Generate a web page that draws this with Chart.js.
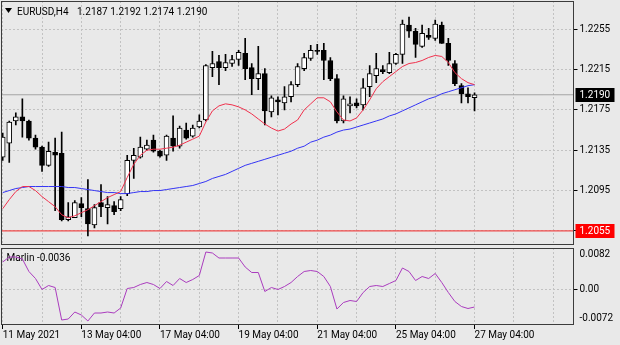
<!DOCTYPE html>
<html>
<head>
<meta charset="utf-8">
<script src="https://cdn.jsdelivr.net/npm/chart.js@4.4.1/dist/chart.umd.min.js"></script>
<style>
    html, body { margin: 0; padding: 0; background: #e9e9e9; }
    #wrap { position: relative; width: 620px; height: 345px; overflow: hidden; }
    canvas { position: absolute; left: 0; }
    #priceChart { top: 0; }
    #marlinChart { top: 247px; }
</style>
</head>
<body>
<div id="wrap">
    <canvas id="priceChart" width="620" height="247"></canvas>
    <canvas id="marlinChart" width="620" height="98"></canvas>
</div>
<script>
// EURUSD H4, 11 May 04:00 .. 27 May 04:00
const SYMBOL = 'EURUSD,H4';

const OPEN = [1.2128,1.2142,1.2164,1.2168,1.2164,1.2147,1.2138,1.2120,1.2133,1.2132,
    1.2066,1.2068,1.2082,1.2077,1.2061,1.2083,1.2078,1.2080,1.2077,1.2092,
    1.2125,1.2128,1.2136,1.2145,1.2134,1.2130,1.2147,1.2139,1.2155,1.2149,
    1.2158,1.2165,1.2217,1.2223,1.2217,1.2221,1.2225,1.2231,1.2217,1.2206,
    1.2211,1.2173,1.2185,1.2182,1.2188,1.2200,1.2216,1.2226,1.2234,1.2234,
    1.2224,1.2206,1.2164,1.2179,1.2182,1.2180,1.2198,1.2209,1.2215,1.2212,
    1.2221,1.2230,1.2259,1.2253,1.2238,1.2249,1.2246,1.2259,1.2241,1.2221,
    1.2199,1.2191,1.2187];
const HIGH = [1.2152,1.2164,1.2172,1.2186,1.2165,1.2150,1.2139,1.2143,1.2147,1.2153,
    1.2083,1.2085,1.2088,1.2106,1.2081,1.2101,1.2089,1.2084,1.2089,1.2130,
    1.2137,1.2148,1.2145,1.2150,1.2135,1.2150,1.2169,1.2159,1.2162,1.2160,
    1.2170,1.2220,1.2233,1.2229,1.2230,1.2229,1.2234,1.2246,1.2221,1.2238,
    1.2216,1.2189,1.2188,1.2198,1.2203,1.2221,1.2231,1.2239,1.2240,1.2241,
    1.2227,1.2210,1.2189,1.2188,1.2186,1.2206,1.2219,1.2231,1.2219,1.2232,
    1.2231,1.2264,1.2267,1.2256,1.2259,1.2256,1.2264,1.2262,1.2246,1.2224,
    1.2201,1.2197,1.2192];
const LOW = [1.2125,1.2123,1.2160,1.2148,1.2145,1.2136,1.2114,1.2119,1.2075,1.2065,
    1.2065,1.2068,1.2069,1.2050,1.2058,1.2069,1.2062,1.2071,1.2075,1.2090,
    1.2107,1.2127,1.2135,1.2133,1.2128,1.2125,1.2134,1.2137,1.2146,1.2148,
    1.2157,1.2164,1.2208,1.2200,1.2214,1.2218,1.2219,1.2205,1.2190,1.2195,
    1.2160,1.2168,1.2170,1.2175,1.2183,1.2198,1.2214,1.2224,1.2230,1.2205,
    1.2204,1.2162,1.2162,1.2172,1.2177,1.2175,1.2188,1.2202,1.2211,1.2211,
    1.2220,1.2221,1.2247,1.2227,1.2237,1.2245,1.2244,1.2241,1.2219,1.2199,
    1.2182,1.2182,1.2174];
const CLOSE = [1.2148,1.2163,1.2168,1.2164,1.2147,1.2138,1.2120,1.2134,1.2130,1.2066,
    1.2069,1.2083,1.2078,1.2062,1.2078,1.2079,1.2081,1.2074,1.2086,1.2125,
    1.2130,1.2138,1.2140,1.2134,1.2129,1.2149,1.2139,1.2157,1.2147,1.2157,
    1.2164,1.2219,1.2221,1.2217,1.2222,1.2225,1.2232,1.2216,1.2206,1.2211,
    1.2174,1.2187,1.2183,1.2188,1.2200,1.2218,1.2227,1.2234,1.2233,1.2224,
    1.2206,1.2164,1.2186,1.2181,1.2179,1.2197,1.2211,1.2216,1.2213,1.2221,
    1.2230,1.2260,1.2253,1.2240,1.2251,1.2247,1.2260,1.2241,1.2224,1.2201,
    1.2191,1.2188,1.2190];

// fast (red) and slow (blue) moving averages
const MA_FAST = [1.2077,1.2086,1.2094,1.2099,1.2099,1.2095,1.2089,1.2084,1.2079,1.2071,
    1.2068,1.2070,1.2073,1.2076,1.2080,1.2084,1.2088,1.2091,1.2094,1.2108,
    1.2121,1.2130,1.2135,1.2136,1.2136,1.2137,1.2138,1.2140,1.2143,1.2146,
    1.2149,1.2163,1.2174,1.2179,1.2181,1.2180,1.2178,1.2175,1.2171,1.2166,
    1.2161,1.2157,1.2154,1.2156,1.2161,1.2165,1.2175,1.2181,1.2187,1.2187,
    1.2183,1.2173,1.2165,1.2164,1.2167,1.2175,1.2185,1.2196,1.2203,1.2208,
    1.2213,1.2218,1.2221,1.2222,1.2224,1.2227,1.2229,1.2228,1.2222,1.2212,
    1.2206,1.2202,1.2200];
const MA_SLOW = [1.2093,1.2095,1.2097,1.2098,1.2099,1.2099,1.2099,1.2099,1.2099,1.2099,
    1.2098,1.2098,1.2097,1.2096,1.2095,1.2094,1.2093,1.2093,1.2092,1.2092,
    1.2093,1.2094,1.2094,1.2095,1.2095,1.2096,1.2097,1.2098,1.2099,1.2100,
    1.2102,1.2104,1.2107,1.2109,1.2111,1.2114,1.2117,1.2120,1.2122,1.2124,
    1.2126,1.2128,1.2130,1.2132,1.2134,1.2137,1.2139,1.2143,1.2145,1.2148,
    1.2150,1.2153,1.2155,1.2156,1.2158,1.2160,1.2162,1.2164,1.2166,1.2169,
    1.2171,1.2174,1.2177,1.2180,1.2183,1.2186,1.2188,1.2191,1.2193,1.2195,
    1.2197,1.2199,1.2200];

// Marlin oscillator, lower window
const MARLIN = [0.0054,0.0064,0.0064,0.0060,0.0035,0.0021,-0.0001,0.0007,0.0003,-0.0062,
    -0.0060,-0.0046,-0.0052,-0.0064,-0.0048,-0.0048,-0.0046,-0.0048,-0.0038,0.0001,
    0.0003,0.0009,0.0013,0.0009,0.0001,0.0015,0.0007,0.0021,0.0013,0.0019,
    0.0027,0.0074,0.0072,0.0062,0.0062,0.0062,0.0062,0.0044,0.0033,0.0033,
    -0.0005,0.0003,-0.0001,0.0005,0.0013,0.0025,0.0035,0.0037,0.0035,0.0025,
    0.0005,-0.0040,-0.0027,-0.0023,-0.0025,-0.0007,0.0005,0.0007,0.0005,0.0011,
    0.0017,0.0042,0.0035,0.0017,0.0025,0.0021,0.0031,0.0013,-0.0007,-0.0025,
    -0.0035,-0.0039,-0.0036];

const LEVEL = 1.2055;
const PRICE_TICKS = [1.2255, 1.2215, 1.2175, 1.2135, 1.2095, 1.2055];
const MARLIN_LABELS = ['0.0082', '0.00', '-0.0072'];
const AXIS_BARS = [0, 12, 24, 36, 48, 60, 72];
const AXIS_LABELS = ['11 May 2021', '13 May 04:00', '17 May 04:00', '19 May 04:00',
    '21 May 04:00', '25 May 04:00', '27 May 04:00'];

const X_MIN = -0.26, X_MAX = 87.1;
const Y_MIN = 1.2041, Y_MAX = 1.2283;
const M_MIN = -0.0072, M_MAX = 0.0082;
const AXIS_W = 46.5;
const GRID = '#c2c2c2';
const FRAME = '#3c3c3c';

Chart.defaults.font.family = 'Roboto';
Chart.defaults.font.size = 10;
Chart.defaults.color = '#000';

const gridBars = [];
for (let b = 0; b <= X_MAX; b += 6) gridBars.push(b);

const idx = CLOSE.map((_, i) => i);
const last = CLOSE.length - 1;
const series = arr => arr.map((v, i) => ({ x: i, y: v }));
const hline = v => [{ x: X_MIN, y: v }, { x: X_MAX, y: v }];

// keep the plot edges where the layout puts them (no room for overhanging labels)
const noOverhang = s => {
    s.paddingTop = 0; s.paddingBottom = 0;
    s.paddingLeft = 0; s.paddingRight = 0;
};

const frame = {
    id: 'frame',
    afterDraw(chart) {
        const { ctx, chartArea: a } = chart;
        ctx.save();
        ctx.strokeStyle = FRAME;
        ctx.lineWidth = 1;
        ctx.strokeRect(Math.round(a.left) + 0.5, Math.round(a.top) + 0.5,
            Math.round(a.right - a.left) - 1, Math.round(a.bottom - a.top) - 1);
        ctx.restore();
    }
};

function priceTag(chart, value, bg) {
    const { ctx } = chart;
    const y = Math.round(chart.scales.y.getPixelForValue(value));
    ctx.fillStyle = bg;
    ctx.fillRect(575.5, y - 7, 39, 14);
    ctx.fillStyle = '#fff';
    ctx.textBaseline = 'middle';
    ctx.textAlign = 'left';
    ctx.fillText(value.toFixed(4), 579.5, y + 0.5);
}

const overlay = {
    id: 'overlay',
    afterDraw(chart) {
        const { ctx } = chart;
        ctx.save();
        ctx.font = '10px Roboto';
        priceTag(chart, CLOSE[last], '#000');
        priceTag(chart, LEVEL, '#ff0000');

        // symbol header
        ctx.fillStyle = '#000';
        ctx.beginPath();
        ctx.moveTo(5, 8); ctx.lineTo(12, 8); ctx.lineTo(8.5, 13); ctx.closePath();
        ctx.fill();
        ctx.textBaseline = 'alphabetic';
        ctx.textAlign = 'left';
        ctx.fillText(SYMBOL, 17, 14.5);
        const ohlc = [OPEN[last], HIGH[last], LOW[last], CLOSE[last]].map(v => v.toFixed(4)).join(' ');
        ctx.fillText(ohlc, 77, 14.5);
        ctx.restore();
    }
};

new Chart(document.getElementById('priceChart'), {
    type: 'bar',
    data: {
        datasets: [
            { type: 'line', data: series(MA_FAST), borderColor: '#f0304c', borderWidth: 1, pointRadius: 0, order: 0 },
            { type: 'line', data: series(MA_SLOW), borderColor: '#3434f4', borderWidth: 1, pointRadius: 0, order: 0 },
            {
                data: idx.map(i => ({ x: i, y: [OPEN[i], CLOSE[i]] })),
                backgroundColor: idx.map(i => CLOSE[i] >= OPEN[i] ? '#ffffff' : '#000000'),
                borderColor: '#000', borderWidth: 1, borderSkipped: false,
                barThickness: 5, grouped: false, order: 1
            },
            {
                data: idx.map(i => ({ x: i, y: [LOW[i], HIGH[i]] })),
                backgroundColor: '#000', borderWidth: 0,
                barThickness: 1, grouped: false, order: 2
            },
            { type: 'line', data: hline(CLOSE[last]), borderColor: '#a4a4a4', borderWidth: 1, pointRadius: 0, order: 3 },
            { type: 'line', data: hline(LEVEL), borderColor: '#f04a4a', borderWidth: 1.2, pointRadius: 0, order: 3 }
        ]
    },
    options: {
        responsive: false,
        animation: false,
        devicePixelRatio: 1,
        layout: { padding: { left: 1, top: 1, right: 0, bottom: 2 } },
        plugins: { legend: { display: false }, tooltip: { enabled: false } },
        scales: {
            x: {
                type: 'linear', min: X_MIN, max: X_MAX, offset: false,
                afterBuildTicks: s => { s.ticks = gridBars.map(v => ({ value: v })); },
                afterFit: s => { s.height = 0; noOverhang(s); },
                ticks: { display: false },
                grid: { color: GRID, drawTicks: false, offset: false },
                border: { display: false, dash: [2, 2] }
            },
            y: {
                position: 'right', min: Y_MIN, max: Y_MAX,
                afterBuildTicks: s => { s.ticks = PRICE_TICKS.map(v => ({ value: v })); },
                afterFit: s => { s.width = AXIS_W; noOverhang(s); },
                ticks: { callback: v => v.toFixed(4), padding: 2 },
                grid: { color: GRID, tickLength: 4, tickColor: '#000' },
                border: { display: false, dash: [2, 2] }
            }
        }
    },
    plugins: [frame, overlay]
});

const marlinLabel = {
    id: 'marlinLabel',
    beforeDatasetsDraw(chart) {
        const { ctx } = chart;
        ctx.save();
        ctx.font = '10px Roboto';
        ctx.fillStyle = '#000';
        ctx.textBaseline = 'alphabetic';
        ctx.fillText('Marlin ' + MARLIN[last].toFixed(4), 6.5, 13.5);
        ctx.restore();
    }
};

new Chart(document.getElementById('marlinChart'), {
    type: 'line',
    data: {
        datasets: [
            { data: series(MARLIN), borderColor: '#aa3cbe', borderWidth: 1, pointRadius: 0 }
        ]
    },
    options: {
        responsive: false,
        animation: false,
        devicePixelRatio: 1,
        layout: { padding: { left: 1, top: 1, right: 0, bottom: 0 } },
        plugins: { legend: { display: false }, tooltip: { enabled: false } },
        scales: {
            x: {
                type: 'linear', min: X_MIN, max: X_MAX, offset: false,
                afterBuildTicks: s => { s.ticks = gridBars.map(v => ({ value: v })); },
                afterFit: s => { s.height = 20; noOverhang(s); },
                ticks: {
                    autoSkip: false, maxRotation: 0, align: 'start', padding: 0,
                    callback: v => {
                        const k = AXIS_BARS.indexOf(v);
                        return k >= 0 ? AXIS_LABELS[k] : '';
                    }
                },
                grid: {
                    color: GRID, tickLength: 4,
                    tickColor: c => (c.tick && AXIS_BARS.includes(c.tick.value)) ? '#000' : 'rgba(0,0,0,0)'
                },
                border: { display: false, dash: [2, 2] }
            },
            y: {
                position: 'right', min: M_MIN, max: M_MAX,
                // outer labels sit just inside the window edges
                afterBuildTicks: s => {
                    const inset = (M_MAX - M_MIN) * 0.08;
                    s.ticks = [{ value: M_MAX - inset }, { value: 0 }, { value: M_MIN + inset }];
                },
                afterFit: s => { s.width = AXIS_W; noOverhang(s); },
                ticks: { padding: 2, callback: (v, i) => MARLIN_LABELS[i] },
                grid: {
                    color: c => (c.tick && c.tick.value === 0) ? GRID : 'rgba(0,0,0,0)',
                    tickLength: 4,
                    tickColor: c => (c.tick && c.tick.value === 0) ? '#000' : 'rgba(0,0,0,0)'
                },
                border: { display: false, dash: [2, 2] }
            }
        }
    },
    plugins: [frame, marlinLabel]
});
</script>
</body>
</html>
